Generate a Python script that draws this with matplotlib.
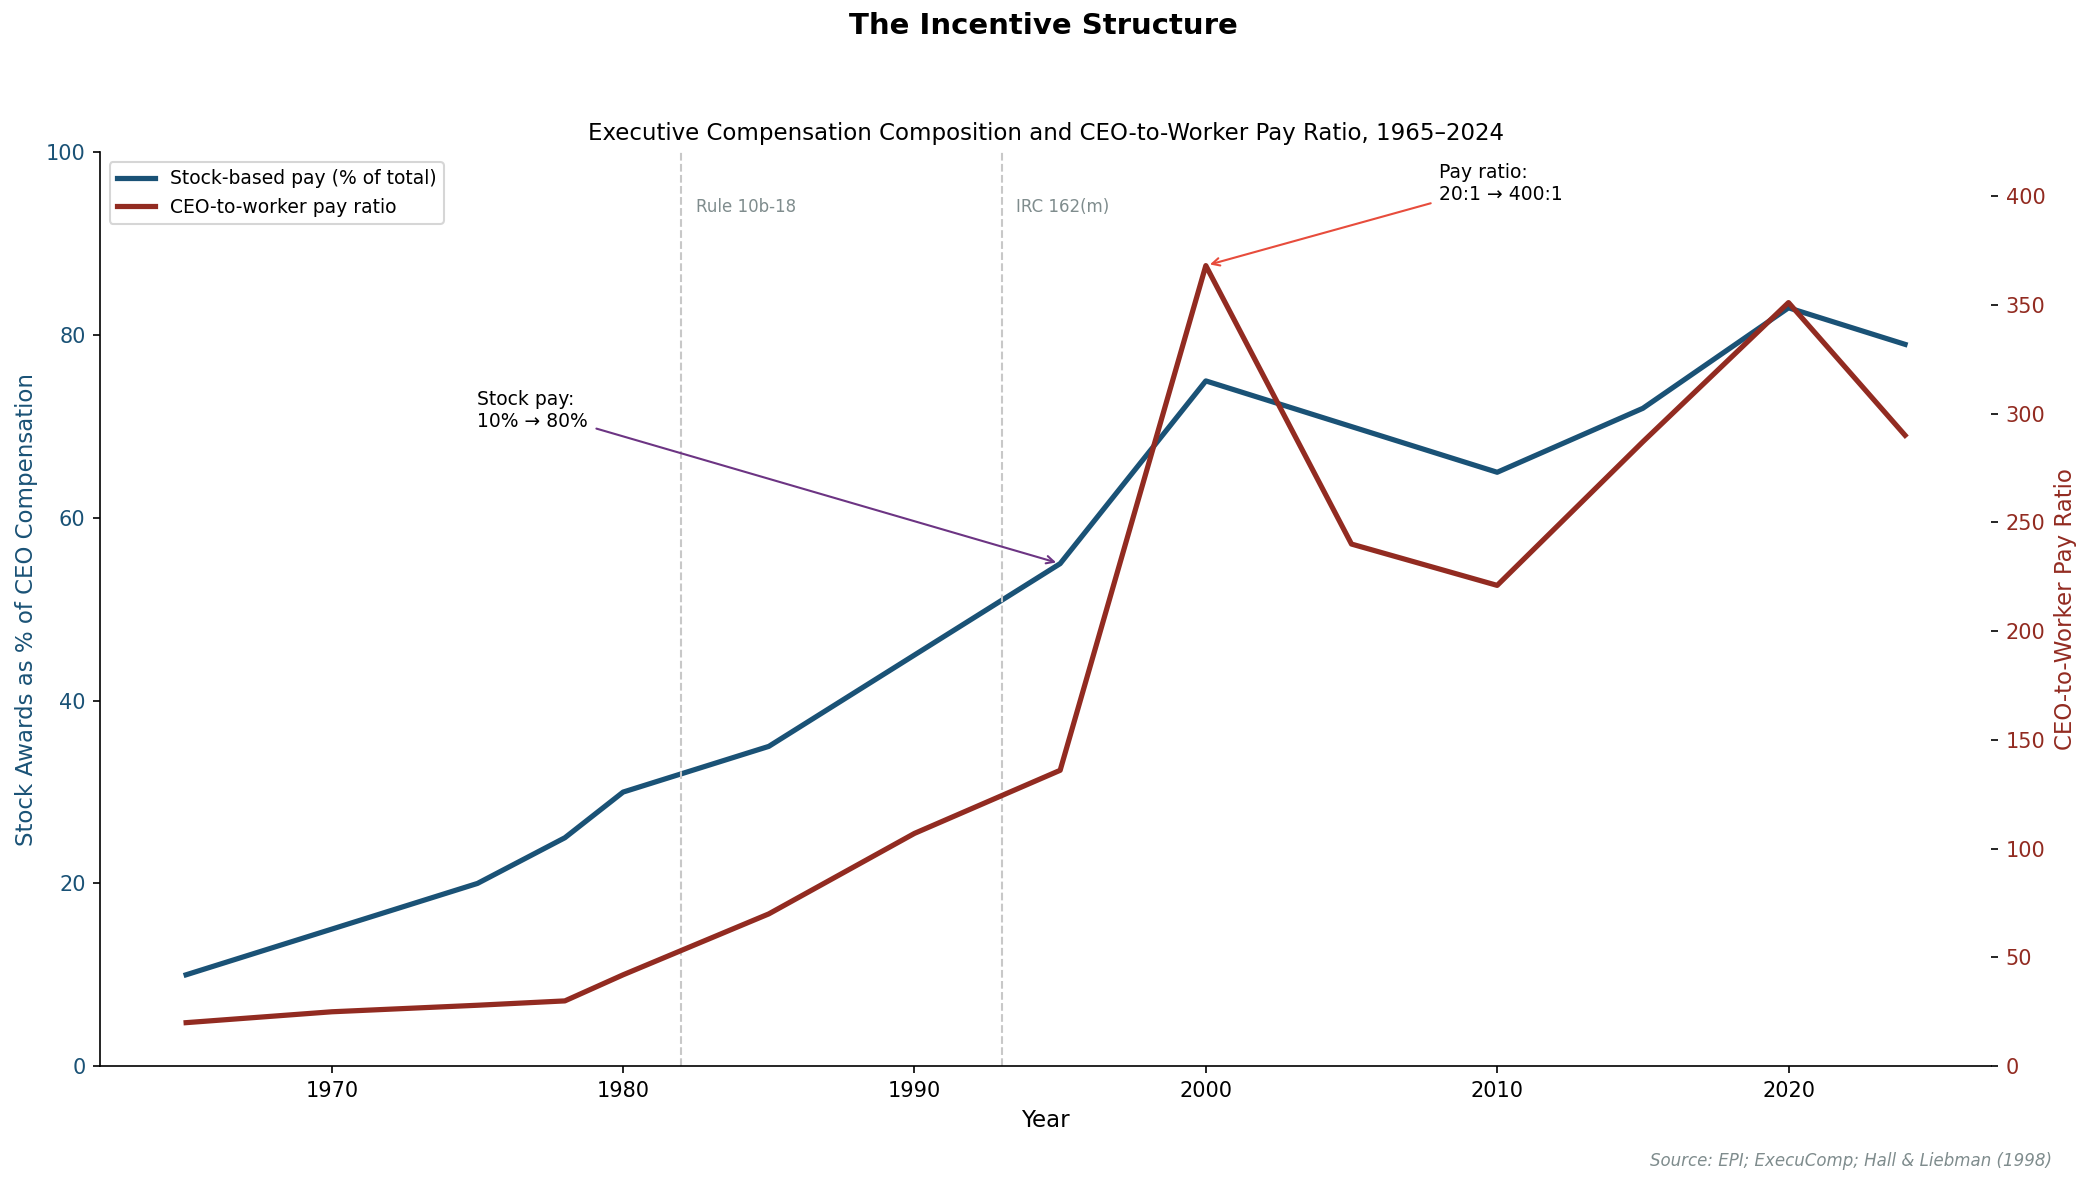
import numpy as np
import matplotlib
matplotlib.use("Agg")
import matplotlib.pyplot as plt

# values
stock_years = [1965, 1970, 1975, 1978, 1980, 1985, 1990, 1995, 2000, 2005, 2010, 2015, 2020, 2024]
stock_pct = [10, 15, 20, 25, 30, 35, 45, 55, 75, 70, 65, 72, 83, 79]

ratio_years = [1965, 1970, 1975, 1978, 1980, 1985, 1990, 1995, 2000, 2005, 2010, 2015, 2020, 2024]
pay_ratio = [20, 25, 28, 30, 42, 70, 107, 136, 368, 240, 221, 287, 351, 290]

policy_years = [1982, 1993]
policy_labels = ["Rule 10b-18", "IRC 162(m)"]

BLUE = "#1a5276"
RED = "#922b21"

fig, ax = plt.subplots(figsize=(2087 / 150, 1182 / 150), dpi=150)
fig.subplots_adjust(left=0.048, right=0.954, top=0.871, bottom=0.098)
ax2 = ax.twinx()

l1, = ax.plot(stock_years, stock_pct, color=BLUE, lw=2.5, label="Stock-based pay (% of total)")
l2, = ax2.plot(ratio_years, pay_ratio, color=RED, lw=2.5, label="CEO-to-worker pay ratio")

ax.set_ylim(0, 100)
ax2.set_ylim(0, 420)

for yr, lab in zip(policy_years, policy_labels):
    ax.axvline(yr, color="#c8c8c8", ls="--", lw=1)
    ax.text(yr + 0.5, 94, lab, fontsize=8, color="#7f8c8d", va="center")

ax.set_xlabel("Year", fontsize=11)
ax.set_ylabel("Stock Awards as % of CEO Compensation", color=BLUE, fontsize=11)
ax2.set_ylabel("CEO-to-Worker Pay Ratio", color=RED, fontsize=11)
ax.tick_params(axis="y", colors=BLUE)
ax.tick_params(axis="y", which="both", color="black")
ax2.tick_params(axis="y", labelcolor=RED, color="black")

for s in ["top", "right"]:
    ax.spines[s].set_visible(False)
for s in ["top", "right", "left", "bottom"]:
    ax2.spines[s].set_visible(False)

ax.annotate("Stock pay:\n10% \u2192 80%", xy=(1995, 55), xytext=(1975, 70),
            fontsize=9, arrowprops=dict(arrowstyle="->", color="#6c3483", lw=1))
ax2.annotate("Pay ratio:\n20:1 \u2192 400:1", xy=(2000, 368), xytext=(2008, 398),
             fontsize=9, arrowprops=dict(arrowstyle="->", color="#e74c3c", lw=1))

ax.legend(handles=[l1, l2], loc="upper left", fontsize=9)

ax.set_title("Executive Compensation Composition and CEO-to-Worker Pay Ratio, 1965\u20132024",
             fontsize=11)
fig.suptitle("The Incentive Structure", fontsize=14, fontweight="bold", y=0.99)
fig.text(0.983, 0.01, "Source: EPI; ExecuComp; Hall & Liebman (1998)", ha="right",
         va="bottom", fontsize=8, style="italic", color="#7f8c8d")

fig.savefig("out.png", dpi=150)
